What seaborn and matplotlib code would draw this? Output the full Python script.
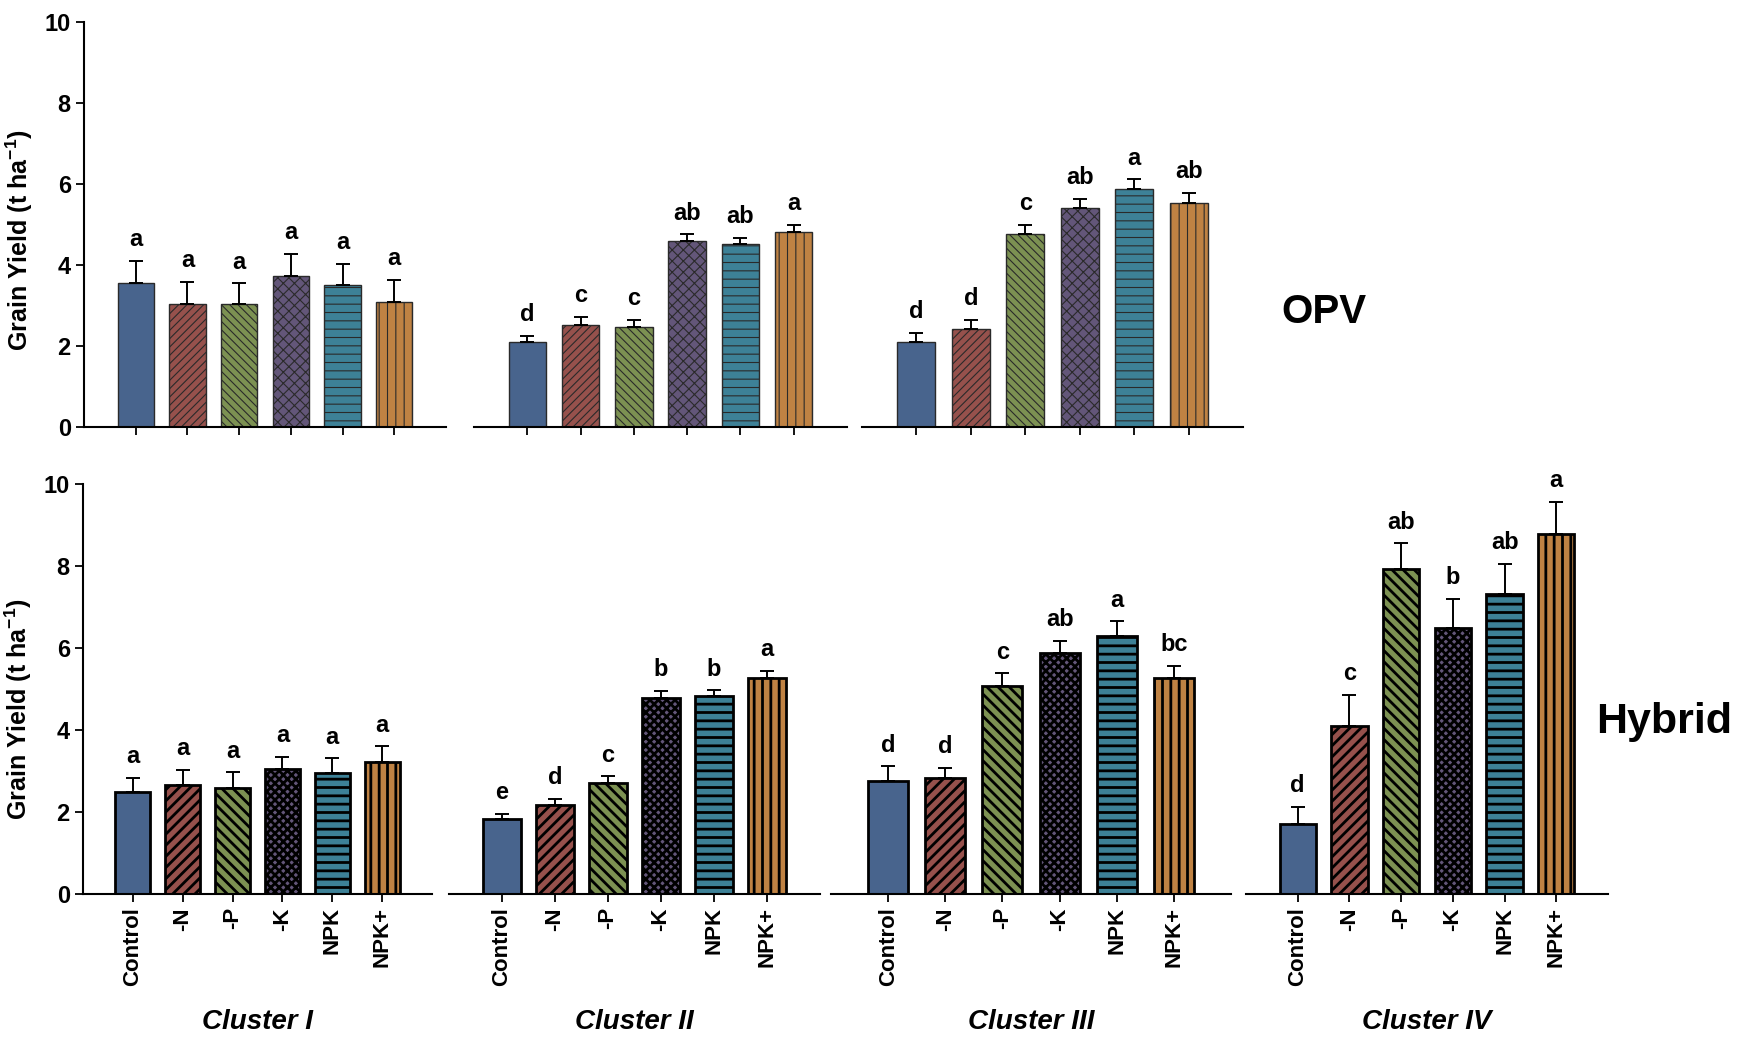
import numpy as np
import pandas as pd
import seaborn as sns
import matplotlib.pyplot as plt

treatments = ['Control', '-N', '-P', '-K', 'NPK', 'NPK+']
bar_colors = ['#3d6298', '#a3463f', '#7f9b48', '#62507f', '#2e88a6', '#d3822f']

# OPV (top row), 3 clusters
opv_c1_mean = [3.54, 3.04, 3.02, 3.72, 3.49, 3.09]
opv_c1_err = [0.56, 0.53, 0.52, 0.54, 0.53, 0.53]
opv_c1_letters = ['a', 'a', 'a', 'a', 'a', 'a']

opv_c2_mean = [2.08, 2.52, 2.47, 4.59, 4.50, 4.81]
opv_c2_err = [0.16, 0.19, 0.17, 0.16, 0.17, 0.18]
opv_c2_letters = ['d', 'c', 'c', 'ab', 'ab', 'a']

opv_c3_mean = [2.08, 2.40, 4.75, 5.39, 5.87, 5.53]
opv_c3_err = [0.24, 0.23, 0.24, 0.24, 0.24, 0.24]
opv_c3_letters = ['d', 'd', 'c', 'ab', 'a', 'ab']

# Hybrid (bottom row), 4 clusters
hyb_c1_mean = [2.48, 2.67, 2.59, 3.04, 2.96, 3.22]
hyb_c1_err = [0.36, 0.35, 0.38, 0.31, 0.35, 0.38]
hyb_c1_letters = ['a', 'a', 'a', 'a', 'a', 'a']

hyb_c2_mean = [1.82, 2.16, 2.71, 4.79, 4.84, 5.28]
hyb_c2_err = [0.14, 0.16, 0.16, 0.17, 0.13, 0.16]
hyb_c2_letters = ['e', 'd', 'c', 'b', 'b', 'a']

hyb_c3_mean = [2.75, 2.83, 5.08, 5.87, 6.29, 5.26]
hyb_c3_err = [0.36, 0.25, 0.30, 0.31, 0.36, 0.30]
hyb_c3_letters = ['d', 'd', 'c', 'ab', 'a', 'bc']

hyb_c4_mean = [1.70, 4.09, 7.92, 6.48, 7.32, 8.78]
hyb_c4_err = [0.43, 0.76, 0.63, 0.71, 0.73, 0.78]
hyb_c4_letters = ['d', 'c', 'ab', 'b', 'ab', 'a']

cluster_names = ['Cluster I', 'Cluster II', 'Cluster III', 'Cluster IV']

top_hatches = [None, '////', '\\\\\\\\', 'xxx', '--', '||']
bottom_hatches = [None, '///', '\\\\\\', 'xxxx', '--', '||']

sns.set_style('ticks')
plt.rcParams['font.family'] = ['Liberation Sans', 'DejaVu Sans']
plt.rcParams['font.weight'] = 'bold'
plt.rcParams['text.color'] = 'black'
plt.rcParams['axes.labelcolor'] = 'black'
plt.rcParams['axes.edgecolor'] = 'black'
plt.rcParams['xtick.color'] = 'black'
plt.rcParams['ytick.color'] = 'black'
plt.rcParams['mathtext.fontset'] = 'custom'
plt.rcParams['mathtext.rm'] = 'Liberation Sans:bold'
plt.rcParams['mathtext.bf'] = 'Liberation Sans:bold'
plt.rcParams['mathtext.default'] = 'bf'

W, H = 1737, 1038


def px_axes(fig, x0, x1, ytop, ybot):
    return fig.add_axes([x0 / W, 1 - ybot / H, (x1 - x0) / W, (ybot - ytop) / H])


def draw_panel(ax, means, errs, letters, hatches, first, bottom_row):
    df = pd.DataFrame({'treatment': treatments, 'yield': means})
    sns.barplot(data=df, x='treatment', y='yield', hue='treatment',
                order=treatments, hue_order=treatments, palette=bar_colors,
                width=0.7, errorbar=None, legend=False, ax=ax)
    edge = 'black' if bottom_row else '#2a2a2a'
    hatch_lw = 2.0 if bottom_row else 0.8
    for container, hatch in zip(ax.containers, hatches):
        for bar in container:
            bar.set_edgecolor(edge)
            bar.set_linewidth(2.0 if bottom_row else 1.0)
            if hatch:
                bar.set_hatch(hatch)
                if hasattr(bar, 'set_hatch_linewidth'):
                    bar.set_hatch_linewidth(hatch_lw)
    xs = np.arange(len(treatments))
    ax.errorbar(xs, means, yerr=[np.zeros(len(means)), errs], fmt='none',
                ecolor='black', elinewidth=1.4, capsize=5, capthick=1.4, zorder=5)
    for x, m, e, lab in zip(xs, means, errs, letters):
        ax.annotate(lab, (x, m + e), xytext=(0, 7), textcoords='offset points',
                    ha='center', va='bottom', fontsize=17, fontweight='bold')

    ax.set_xlim(-1, 6)
    ax.set_ylim(0, 10)
    ax.set_xlabel('')
    ax.set_ylabel('')
    ax.spines['top'].set_visible(False)
    ax.spines['right'].set_visible(False)
    ax.spines['bottom'].set_linewidth(1.5)
    ax.spines['left'].set_linewidth(1.5)
    ax.tick_params(axis='x', length=6, width=1.3, direction='out')
    if first:
        ax.set_yticks([0, 2, 4, 6, 8, 10])
        ax.tick_params(axis='y', length=6, width=1.3, labelsize=17)
        ax.set_ylabel('Grain Yield (t ha$^{-1}$)', fontsize=18, fontweight='bold')
    else:
        ax.spines['left'].set_visible(False)
        ax.tick_params(axis='y', left=False, labelleft=False)
    if bottom_row:
        ax.set_xticks(xs)
        ax.set_xticklabels(treatments, rotation=90, fontsize=16, fontweight='bold')
    else:
        ax.tick_params(axis='x', labelbottom=False)


fig = plt.figure(figsize=(W / 100, H / 100), dpi=100)

top_x = [(84, 446), (474, 847), (862, 1243)]
top_data = [(opv_c1_mean, opv_c1_err, opv_c1_letters),
            (opv_c2_mean, opv_c2_err, opv_c2_letters),
            (opv_c3_mean, opv_c3_err, opv_c3_letters)]
for i, ((x0, x1), (m, e, l)) in enumerate(zip(top_x, top_data)):
    ax = px_axes(fig, x0, x1, 22, 426.5)
    draw_panel(ax, m, e, l, top_hatches, i == 0, False)
    if i == 0:
        ax.yaxis.set_label_coords(-0.135, 0.46)

bot_x = [(83, 432), (449, 820), (831, 1231), (1246, 1608)]
bot_data = [(hyb_c1_mean, hyb_c1_err, hyb_c1_letters),
            (hyb_c2_mean, hyb_c2_err, hyb_c2_letters),
            (hyb_c3_mean, hyb_c3_err, hyb_c3_letters),
            (hyb_c4_mean, hyb_c4_err, hyb_c4_letters)]
for i, ((x0, x1), (m, e, l)) in enumerate(zip(bot_x, bot_data)):
    ax = px_axes(fig, x0, x1, 484, 894)
    draw_panel(ax, m, e, l, bottom_hatches, i == 0, True)
    if i == 0:
        ax.yaxis.set_label_coords(-0.14, 0.45)
    fig.text((x0 + x1) / 2 / W, 1 - 1022 / H, cluster_names[i], ha='center', va='center',
             fontsize=20, fontweight='bold', fontstyle='italic')

fig.text(1324 / W, 1 - 312 / H, 'OPV', ha='center', va='center', fontsize=29, fontweight='bold')
fig.text(1664 / W, 1 - 722 / H, 'Hybrid', ha='center', va='center', fontsize=31, fontweight='bold')

fig.savefig('out.png', dpi=100)
plt.close(fig)
